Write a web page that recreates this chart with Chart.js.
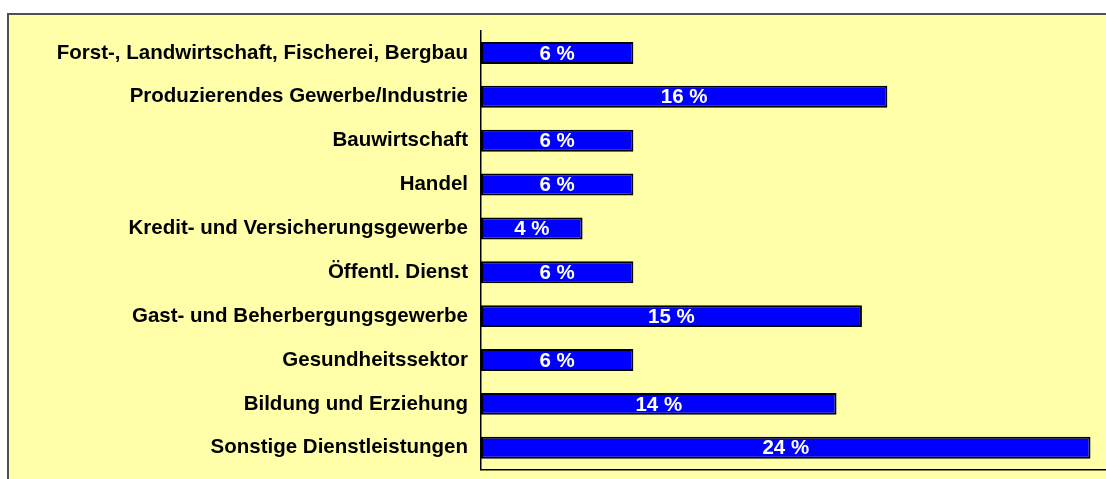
<!DOCTYPE html>
<html>
<head>
<meta charset="utf-8">
<script src="https://cdn.jsdelivr.net/npm/chart.js@4/dist/chart.umd.min.js"></script>
<style>
	html, body { margin: 0; padding: 0; background: #ffffff; overflow: hidden; }
	#box {
		position: absolute; left: 7px; top: 13px; width: 1200px; height: 600px;
		background: #ffffaa; border: 2px solid #505050;
	}
	#cvs { position: absolute; left: 0; top: 0; }
</style>
</head>
<body>
<div id="box"></div>
<canvas id="cvs" width="1106" height="479"></canvas>
<script>
var categories = [
	"Forst-, Landwirtschaft, Fischerei, Bergbau",
	"Produzierendes Gewerbe/Industrie",
	"Bauwirtschaft",
	"Handel",
	"Kredit- und Versicherungsgewerbe",
	"Öffentl. Dienst",
	"Gast- und Beherbergungsgewerbe",
	"Gesundheitssektor",
	"Bildung und Erziehung",
	"Sonstige Dienstleistungen"
];
var percentValues = [6, 16, 6, 6, 4, 6, 15, 6, 14, 24];

var fontFamily = "'Liberation Sans', Arial, Helvetica, sans-serif";

// white value labels in the middle of each bar
var barLabels = {
	id: "barLabels",
	afterDatasetsDraw: function(chart) {
		var ctx = chart.ctx;
		var meta = chart.getDatasetMeta(0);
		ctx.save();
		ctx.fillStyle = "#ffffff";
		ctx.font = "bold 20.5px " + fontFamily;
		ctx.textAlign = "center";
		ctx.textBaseline = "middle";
		meta.data.forEach(function(bar, i) {
			var cx = (bar.x + bar.base) / 2;
			ctx.fillText(percentValues[i] + " %", cx, bar.y + 1);
		});
		ctx.restore();
	}
};

new Chart(document.getElementById("cvs"), {
	type: "bar",
	data: {
		labels: categories,
		datasets: [
			{
				data: percentValues,
				backgroundColor: "#0000ff",
				borderColor: "#000000",
				borderWidth: 2,
				borderSkipped: false,
				barPercentage: 0.5,
				categoryPercentage: 1
			}
		]
	},
	options: {
		indexAxis: "y",
		responsive: false,
		maintainAspectRatio: false,
		animation: false,
		layout: { padding: { top: 31, right: 0, left: 0, bottom: 0 } },
		plugins: {
			legend: { display: false },
			title: { display: false },
			tooltip: { enabled: false }
		},
		scales: {
			x: {
				min: 0,
				max: 24.61,
				grid: { display: false, drawTicks: false },
				ticks: { display: false },
				border: { display: true, color: "#000000", width: 1.5 },
				afterFit: function(scale) { scale.height = 9; }
			},
			y: {
				// invisible tick marks push the labels away from the axis
				grid: {
					display: true,
					drawOnChartArea: false,
					drawTicks: true,
					tickLength: 16,
					color: "rgba(0,0,0,0)"
				},
				ticks: {
					color: "#000000",
					padding: -3,
					font: { family: fontFamily, size: 20.5, weight: "bold" }
				},
				border: { display: true, color: "#000000", width: 1.5 },
				afterFit: function(scale) { scale.width = 481; }
			}
		}
	},
	plugins: [barLabels]
});
</script>
</body>
</html>
